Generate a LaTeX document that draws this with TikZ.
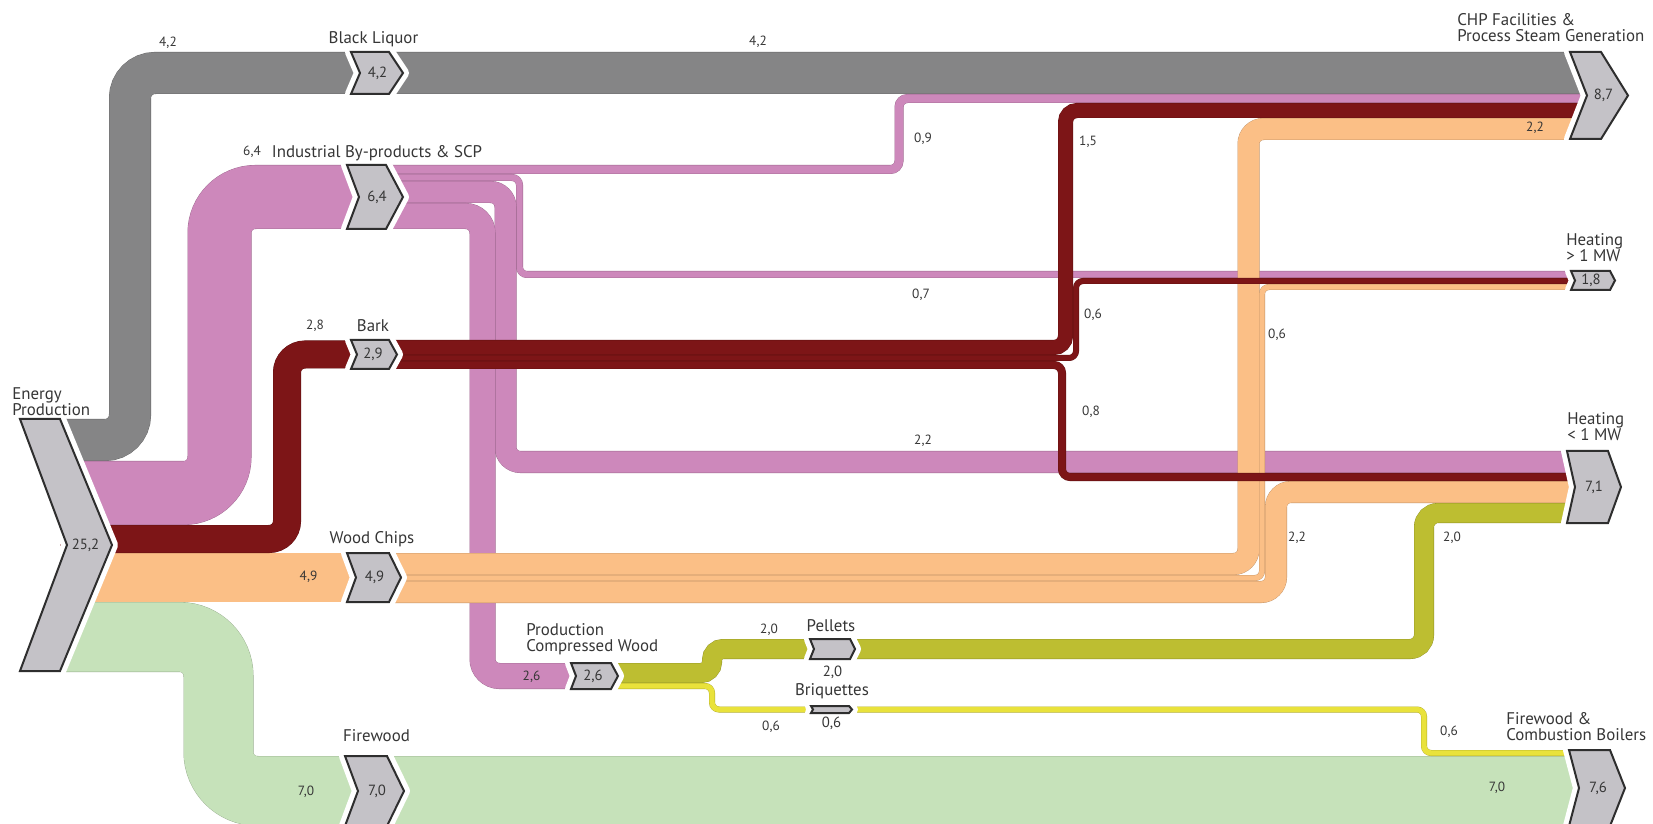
\documentclass[tikz,border=0pt]{standalone}
\usepackage{fontspec}
\setmainfont{PT Sans}

\definecolor{cgray}{HTML}{858586}
\definecolor{cpink}{HTML}{CD88BB}
\definecolor{cred}{HTML}{7D1517}
\definecolor{corange}{HTML}{FBBF86}
\definecolor{cgreen}{HTML}{C6E2BA}
\definecolor{colive}{HTML}{BDBE31}
\definecolor{cyellow}{HTML}{E9E23B}
\definecolor{chevfill}{HTML}{C4C2C7}
\definecolor{chevline}{HTML}{2E2E2E}
\definecolor{txt}{HTML}{363636}

% name, x, top, height, width, tip, notch, value
\newcommand\sankeychev[8]{%
	\draw[chevbox] (#2,#3) -- (#2+#5,#3) -- (#2+#5+#6,#3+#4/2) -- (#2+#5,#3+#4)
		-- (#2,#3+#4) -- (#2+#7,#3+#4/2) -- cycle;
	\node[chevval] (#1) at (#2+#5/2+#6/2+#7/2-4,#3+#4/2) {#8};
}

\begin{document}
\begin{tikzpicture}[
	x=0.25mm, y=-0.25mm,
	band/.style 2 args={draw=#1!75!black, double=#1, line width=0.25pt,
		double distance=#2*2.5mm-0.5pt, rounded corners=#2*1.25mm+1mm},
	chevbox/.style={fill=chevfill, draw=chevline, line width=0.5mm, line join=miter,
		preaction={draw=white, fill=white, line width=3mm, line join=round}},
	chevval/.style={font=\fontsize{10.5}{11}\selectfont, text=txt, inner sep=0pt},
	lbl/.style={font=\fontsize{12}{11.5}\selectfont, text=txt, inner sep=0pt, align=left},
	num/.style={font=\fontsize{9.5}{10}\selectfont, text=txt, inner sep=0pt}
]
\useasboundingbox[fill=white] (0,0) rectangle (1653,824);

% black liquor and industrial by-products
\draw[band={cgray}{4.2}] (60,440) -- (130,440) -- (130,73) -- (1588,73);
\draw[band={cpink}{6.4}] (60,493) -- (219.5,493) -- (219.5,197) -- (360,197);
\draw[band={cpink}{0.9}] (386,169.5) -- (899,169.5) -- (899,98.5) -- (1588,98.5);
\draw[band={cpink}{0.7}] (386,177.5) -- (519.5,177.5) -- (519.5,274.5) -- (1576,274.5);
\draw[band={cpink}{2.2}] (386,192) -- (505.5,192) -- (505.5,462) -- (1576,462);
\draw[band={cpink}{2.6}] (386,216) -- (482.5,216) -- (482.5,676) -- (577,676);

% wood chips
\draw[band={corange}{4.9}] (60,577.5) -- (357,577.5);
\draw[band={corange}{2.2}] (389,564) -- (1248.5,564) -- (1248.5,129) -- (1588,129);
\draw[band={corange}{0.6}] (389,578) -- (1262,578) -- (1262,287) -- (1576,287);
\draw[band={corange}{2.2}] (389,592) -- (1276,592) -- (1276,492) -- (1576,492);

% bark
\draw[band={cred}{2.8}] (60,539) -- (287,539) -- (287,354.5) -- (358,354.5);
\draw[band={cred}{1.5}] (389,347.5) -- (1065.5,347.5) -- (1065.5,110.5) -- (1588,110.5);
\draw[band={cred}{0.6}] (389,358) -- (1076,358) -- (1076,281) -- (1576,281);
\draw[band={cred}{0.8}] (389,365) -- (1062,365) -- (1062,477) -- (1576,477);

% firewood, pellets, briquettes
\draw[band={cgreen}{7.0}] (60,637) -- (218.5,637) -- (218.5,791) -- (1580,791);
\draw[band={colive}{2.0},rounded corners=2.75mm] (611,673) -- (712,673) -- (712,649) -- (815,649);
\draw[band={colive}{2.0}] (850,649) -- (1424,649) -- (1424,513) -- (1576,513);
\draw[band={cyellow}{0.6}] (611,686) -- (712,686) -- (712,709.5) -- (814,709.5);
\draw[band={cyellow}{0.6}] (849,709.5) -- (1424,709.5) -- (1424,753) -- (1580,753);

\sankeychev{ep}{20}{419}{252}{40}{52}{47}{25,2}
\sankeychev{bl}{351}{52}{42}{38}{14}{9}{4,2}
\sankeychev{ind}{347}{165}{64}{39}{17}{12}{6,4}
\sankeychev{bark}{351}{340}{29}{38}{8}{6}{2,9}
\sankeychev{wc}{347}{553}{49}{42}{12}{9}{4,9}
\sankeychev{fw}{345}{756}{70}{42}{17}{13}{7,0}
\sankeychev{pcw}{571}{663}{26}{40}{7}{5}{2,6}
\sankeychev{pel}{810}{639}{20}{40}{5}{4}{}
\sankeychev{bri}{811}{706}{7}{38}{3}{2}{}
\sankeychev{chp}{1570}{52}{87}{31}{27}{17}{8,7}
\sankeychev{hhi}{1571}{271}{19}{39}{5}{4}{1,8}
\sankeychev{hlo}{1567}{451}{72}{41}{13}{8}{7,1}
\sankeychev{fcb}{1569}{750}{76}{41}{15}{10}{7,6}

% labels
\node[lbl, anchor=north west] (ep-l) at (12,387) {Energy\\Production};
\node[lbl, anchor=base] (bl-l) at (373.5,44) {Black Liquor};
\node[lbl, anchor=base] (ind-l) at (377,158) {Industrial By-products \& SCP};
\node[lbl, anchor=base] (bark-l) at (373,332) {Bark};
\node[lbl, anchor=base] (wc-l) at (372,543) {Wood Chips};
\node[lbl, anchor=base] (fw-l) at (376.5,741) {Firewood};
\node[lbl, anchor=north west] (pcw-l) at (526,623) {Production\\Compressed Wood};
\node[lbl, anchor=base] (pel-l) at (831,631) {Pellets};
\node[lbl, anchor=base] (bri-l) at (832,695) {Briquettes};
\node[lbl, anchor=north west] (chp-l) at (1457,13) {CHP Facilities \&\\Process Steam Generation};
\node[lbl, anchor=north west] (hhi-l) at (1566,233) {Heating\\> 1 MW};
\node[lbl, anchor=north west] (hlo-l) at (1567,412) {Heating\\< 1 MW};
\node[lbl, anchor=north west] (fcb-l) at (1506,712) {Firewood \&\\Combustion Boilers};

\node[chevval] (pel-v) at (832.5,672) {2,0};
\node[chevval] (bri-v) at (831.5,723) {0,6};

% flow values
\node[num] (v-bl-in) at (168,43) {4,2};
\node[num] (v-bl-out) at (758,42) {4,2};
\node[num] (v-ind-in) at (252,152) {6,4};
\node[num] (v-ind-chp) at (923,139) {0,9};
\node[num] (v-ind-hhi) at (921,295) {0,7};
\node[num] (v-ind-hlo) at (923,441) {2,2};
\node[num] (v-ind-pcw) at (531.5,677) {2,6};
\node[num] (v-bark-in) at (315,326) {2,8};
\node[num] (v-bark-chp) at (1088,142) {1,5};
\node[num] (v-bark-hhi) at (1093,315) {0,6};
\node[num] (v-bark-hlo) at (1091,412) {0,8};
\node[num] (v-wc-in) at (308.5,577) {4,9};
\node[num] (v-wc-chp) at (1535,128) {2,2};
\node[num] (v-wc-hhi) at (1277,335) {0,6};
\node[num] (v-wc-hlo) at (1297,538) {2,2};
\node[num] (v-fw-in) at (306,792) {7,0};
\node[num] (v-fw-out) at (1497,788) {7,0};
\node[num] (v-pel-in) at (769,630) {2,0};
\node[num] (v-pel-out) at (1452,538) {2,0};
\node[num] (v-bri-in) at (771,727) {0,6};
\node[num] (v-bri-out) at (1449,732) {0,6};
\end{tikzpicture}
\end{document}
